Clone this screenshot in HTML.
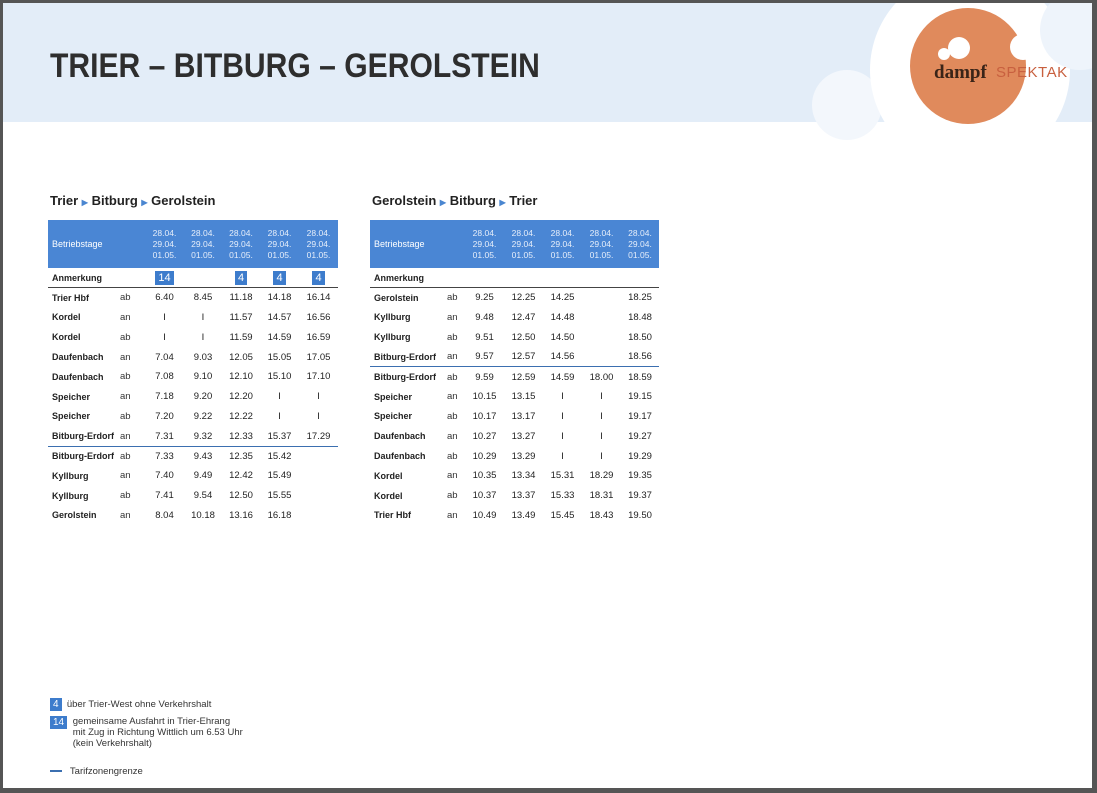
<!DOCTYPE html>
<html><head><meta charset="utf-8">
<style>
*{margin:0;padding:0;box-sizing:border-box}
body{width:1097px;height:793px;overflow:hidden;background:#fff;font-family:"Liberation Sans",sans-serif;position:relative}
.frame{position:absolute;left:0;top:0;width:1097px;height:793px;border:3px solid #555;border-right-width:5px;border-bottom-width:5px;z-index:10}
.band{position:absolute;left:0;top:0;width:1097px;height:122px;background:#e3edf8}
.c{position:absolute;border-radius:50%}
.title{position:absolute;left:50px;top:47px;font-size:34px;font-weight:bold;color:#2e2e2e;white-space:nowrap;transform-origin:0 0;transform:scaleX(0.885)}
.sub{position:absolute;top:193px;font-size:13px;font-weight:bold;color:#222}
.sub span{color:#4a86d0;font-size:8px}
table{position:absolute;border-collapse:collapse;table-layout:fixed;font-size:9.5px;color:#222}
td{height:19.8px;padding:0;text-align:center;white-space:nowrap}
td.l{text-align:left;padding-left:4px;font-weight:bold;font-size:9px}
td.a{text-align:left;color:#333}
tr.h td{background:#4a86d4;color:#e6eefa;height:48px;font-size:8.5px;line-height:11px;font-weight:normal}
tr.an td{border-bottom:1.5px solid #444}
tr.bl td{border-bottom:1.5px solid #3b6fb0}
.n{display:inline-block;background:#3d7ccc;color:#fff;font-size:11px;padding:0 3px;line-height:14px}
.leg{position:absolute;left:50px;font-size:9.5px;color:#333}
</style></head><body>
<div class="band"></div>
<div class="c" style="left:812px;top:70px;width:70px;height:70px;background:#f3f7fc"></div>
<div class="c" style="left:870px;top:-30px;width:200px;height:200px;background:#fff"></div>
<div class="c" style="left:1040px;top:-10px;width:80px;height:80px;background:#eef4fb"></div>
<div class="c" style="left:910px;top:8px;width:116px;height:116px;background:#e08a5c"></div>
<div class="c" style="left:1010px;top:34px;width:26px;height:26px;background:#fff"></div>
<div class="c" style="left:938px;top:48px;width:12px;height:12px;background:#fff"></div>
<div class="c" style="left:948px;top:37px;width:22px;height:22px;background:#fff"></div>
<div style="position:absolute;left:934px;top:62px;font-family:'Liberation Serif',serif;font-size:19px;font-weight:bold;color:#3a2418">dampf</div>
<div style="position:absolute;left:996px;top:64px;font-size:15px;color:#c8603f;letter-spacing:0.5px">SPEKTAK</div>
<div class="title">TRIER – BITBURG – GEROLSTEIN</div>

<div class="sub" style="left:50px">Trier <span>▶</span> Bitburg <span>▶</span> Gerolstein</div>
<div class="sub" style="left:372px">Gerolstein <span>▶</span> Bitburg <span>▶</span> Trier</div>

<table style="left:48px;top:220px;width:290px">
<colgroup><col style="width:72px"><col style="width:25px"><col style="width:39px"><col style="width:38px"><col style="width:38px"><col style="width:39px"><col style="width:39px"></colgroup>
<tr class="h"><td class="l" style="font-weight:normal;font-size:9px;color:#fff">Betriebstage</td><td></td><td>28.04.<br>29.04.<br>01.05.</td><td>28.04.<br>29.04.<br>01.05.</td><td>28.04.<br>29.04.<br>01.05.</td><td>28.04.<br>29.04.<br>01.05.</td><td>28.04.<br>29.04.<br>01.05.</td></tr>
<tr class="an"><td class="l">Anmerkung</td><td></td><td><span class="n">14</span></td><td></td><td><span class="n">4</span></td><td><span class="n">4</span></td><td><span class="n">4</span></td></tr>
<tr><td class="l">Trier Hbf</td><td class="a">ab</td><td>6.40</td><td>8.45</td><td>11.18</td><td>14.18</td><td>16.14</td></tr>
<tr><td class="l">Kordel</td><td class="a">an</td><td>I</td><td>I</td><td>11.57</td><td>14.57</td><td>16.56</td></tr>
<tr><td class="l">Kordel</td><td class="a">ab</td><td>I</td><td>I</td><td>11.59</td><td>14.59</td><td>16.59</td></tr>
<tr><td class="l">Daufenbach</td><td class="a">an</td><td>7.04</td><td>9.03</td><td>12.05</td><td>15.05</td><td>17.05</td></tr>
<tr><td class="l">Daufenbach</td><td class="a">ab</td><td>7.08</td><td>9.10</td><td>12.10</td><td>15.10</td><td>17.10</td></tr>
<tr><td class="l">Speicher</td><td class="a">an</td><td>7.18</td><td>9.20</td><td>12.20</td><td>I</td><td>I</td></tr>
<tr><td class="l">Speicher</td><td class="a">ab</td><td>7.20</td><td>9.22</td><td>12.22</td><td>I</td><td>I</td></tr>
<tr class="bl"><td class="l">Bitburg-Erdorf</td><td class="a">an</td><td>7.31</td><td>9.32</td><td>12.33</td><td>15.37</td><td>17.29</td></tr>
<tr><td class="l">Bitburg-Erdorf</td><td class="a">ab</td><td>7.33</td><td>9.43</td><td>12.35</td><td>15.42</td><td></td></tr>
<tr><td class="l">Kyllburg</td><td class="a">an</td><td>7.40</td><td>9.49</td><td>12.42</td><td>15.49</td><td></td></tr>
<tr><td class="l">Kyllburg</td><td class="a">ab</td><td>7.41</td><td>9.54</td><td>12.50</td><td>15.55</td><td></td></tr>
<tr><td class="l">Gerolstein</td><td class="a">an</td><td>8.04</td><td>10.18</td><td>13.16</td><td>16.18</td><td></td></tr>
</table>

<table style="left:370px;top:220px;width:289px">
<colgroup><col style="width:77px"><col style="width:18px"><col style="width:39px"><col style="width:39px"><col style="width:39px"><col style="width:39px"><col style="width:38px"></colgroup>
<tr class="h"><td class="l" style="font-weight:normal;font-size:9px;color:#fff">Betriebstage</td><td></td><td>28.04.<br>29.04.<br>01.05.</td><td>28.04.<br>29.04.<br>01.05.</td><td>28.04.<br>29.04.<br>01.05.</td><td>28.04.<br>29.04.<br>01.05.</td><td>28.04.<br>29.04.<br>01.05.</td></tr>
<tr class="an"><td class="l">Anmerkung</td><td></td><td></td><td></td><td></td><td></td><td></td></tr>
<tr><td class="l">Gerolstein</td><td class="a">ab</td><td>9.25</td><td>12.25</td><td>14.25</td><td></td><td>18.25</td></tr>
<tr><td class="l">Kyllburg</td><td class="a">an</td><td>9.48</td><td>12.47</td><td>14.48</td><td></td><td>18.48</td></tr>
<tr><td class="l">Kyllburg</td><td class="a">ab</td><td>9.51</td><td>12.50</td><td>14.50</td><td></td><td>18.50</td></tr>
<tr class="bl"><td class="l">Bitburg-Erdorf</td><td class="a">an</td><td>9.57</td><td>12.57</td><td>14.56</td><td></td><td>18.56</td></tr>
<tr><td class="l">Bitburg-Erdorf</td><td class="a">ab</td><td>9.59</td><td>12.59</td><td>14.59</td><td>18.00</td><td>18.59</td></tr>
<tr><td class="l">Speicher</td><td class="a">an</td><td>10.15</td><td>13.15</td><td>I</td><td>I</td><td>19.15</td></tr>
<tr><td class="l">Speicher</td><td class="a">ab</td><td>10.17</td><td>13.17</td><td>I</td><td>I</td><td>19.17</td></tr>
<tr><td class="l">Daufenbach</td><td class="a">an</td><td>10.27</td><td>13.27</td><td>I</td><td>I</td><td>19.27</td></tr>
<tr><td class="l">Daufenbach</td><td class="a">ab</td><td>10.29</td><td>13.29</td><td>I</td><td>I</td><td>19.29</td></tr>
<tr><td class="l">Kordel</td><td class="a">an</td><td>10.35</td><td>13.34</td><td>15.31</td><td>18.29</td><td>19.35</td></tr>
<tr><td class="l">Kordel</td><td class="a">ab</td><td>10.37</td><td>13.37</td><td>15.33</td><td>18.31</td><td>19.37</td></tr>
<tr><td class="l">Trier Hbf</td><td class="a">an</td><td>10.49</td><td>13.49</td><td>15.45</td><td>18.43</td><td>19.50</td></tr>
</table>

<div class="leg" style="top:698px"><span class="n" style="font-size:10px;line-height:13px">4</span>&nbsp;&nbsp;über Trier-West ohne Verkehrshalt</div>
<div class="leg" style="top:716px;line-height:11px"><span class="n" style="font-size:10px;line-height:13px;vertical-align:top">14</span>
<div style="display:inline-block;vertical-align:top;margin-left:3px;line-height:11px">gemeinsame Ausfahrt in Trier-Ehrang<br>mit Zug in Richtung Wittlich um 6.53 Uhr<br>(kein Verkehrshalt)</div></div>
<div class="leg" style="top:766px"><span style="display:inline-block;width:12px;height:2px;background:#3b6fb0;vertical-align:middle"></span>&nbsp;&nbsp;&nbsp;Tarifzonengrenze</div>
<div class="frame"></div>
</body></html>
